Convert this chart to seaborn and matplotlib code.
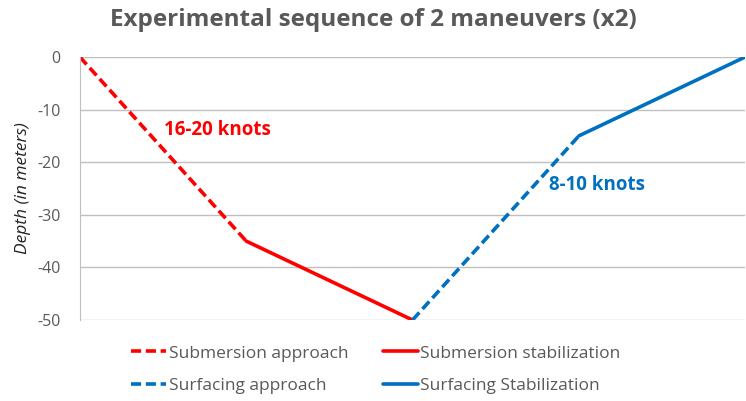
import seaborn as sns
import matplotlib.pyplot as plt
import pandas as pd

# 데이터: 구간별 시작/끝 점 (x는 단계 순서, depth는 수심)
segments = ["Submersion approach", "Submersion stabilization",
            "Surfacing approach", "Surfacing Stabilization"]
seg_x = [[0, 1], [1, 2], [2, 3], [3, 4]]
seg_depth = [[0, -35], [-35, -50], [-50, -15], [-15, 0]]
seg_colors = ["#FF0000", "#FF0000", "#0070C0", "#0070C0"]
seg_dashes = [(2.8, 1.3), "", (2.8, 1.3), ""]
y_ticks = [0, -10, -20, -30, -40, -50]

sns.set_style("white")
plt.rcParams['font.family'] = ['Open Sans', 'DejaVu Sans']
plt.rcParams['axes.unicode_minus'] = False

fig = plt.figure(figsize=(7.46, 4.01), dpi=100)
ax = fig.add_axes([0.107, 0.202, 0.892, 0.656])

for name, xs, ds, c, ls in zip(segments, seg_x, seg_depth, seg_colors, seg_dashes):
    df = pd.DataFrame({"x": xs, "depth": ds})
    line = sns.lineplot(data=df, x="x", y="depth", color=c,
                        linewidth=2.6, label=name, ax=ax).lines[-1]
    if ls:
        line.set_dashes(ls)

ax.set_xlim(0, 4)
ax.set_ylim(-50, 0)
ax.set_yticks(y_ticks)
ax.set_xticks([])
ax.set_xlabel("")
ax.set_ylabel("Depth (in meters)", fontsize=12.5, fontstyle="italic", color="#222222")
ax.tick_params(axis="y", labelsize=11.5, colors="#595959", length=0, pad=14)
ax.grid(axis="y", color="#BFBFBF", linewidth=1)
for s in ["top", "right", "bottom"]:
    ax.spines[s].set_visible(False)
ax.spines["left"].set_color("#BFBFBF")
ax.set_axisbelow(True)

ax.text(0.83, -13.9, "16-20 knots", color="#FF0000", fontsize=13.5,
        fontweight="bold", ha="center", va="center")
ax.text(3.11, -24.3, "8-10 knots", color="#0070C0", fontsize=13.5,
        fontweight="bold", ha="center", va="center")

fig.suptitle("Experimental sequence of 2 maneuvers (x2)", fontsize=17.5,
             fontweight="bold", color="#595959", y=0.98)

# 범례: 행 우선 순서로 보이도록 재배열
h, l = ax.get_legend_handles_labels()
order = [0, 2, 1, 3]
ax.legend([h[i] for i in order], [l[i] for i in order],
          loc="upper center", bbox_to_anchor=(0.445, -0.07), ncol=2,
          frameon=False, fontsize=12.5, handlelength=2.0, handletextpad=0.15,
          columnspacing=2.0, labelcolor="#595959", labelspacing=0.95,
          borderaxespad=0)

fig.savefig("out.png", dpi=100)
